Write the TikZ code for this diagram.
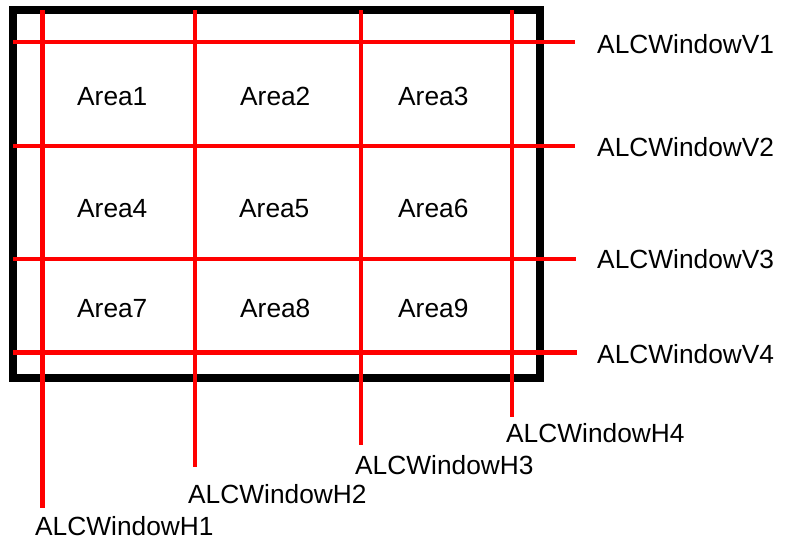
\documentclass[tikz,border=0pt]{standalone}
\usepackage{fontspec}
\setmainfont{Liberation Sans}
\begin{document}
\begin{tikzpicture}[x=1pt,y=-1pt,
  frame/.style={draw=black,line width=8pt},
  win/.style={draw=red,line width=4.5pt},
  lbl/.style={anchor=base west,inner sep=0pt,font=\fontsize{26.3}{30}\selectfont}]
\useasboundingbox (0,0) rectangle (792,539);
% frame
\draw[frame] (13,10) rectangle (540,378);
% window lines
\coordinate (h1t) at (42.5,10); \coordinate (h1b) at (42.5,508);
\coordinate (h2t) at (195,10);  \coordinate (h2b) at (195,467);
\coordinate (h3t) at (361,10);  \coordinate (h3b) at (361,445);
\coordinate (h4t) at (512,10);  \coordinate (h4b) at (512,417);
\coordinate (v1l) at (13,42);   \coordinate (v1r) at (575,42);
\coordinate (v2l) at (13,146);  \coordinate (v2r) at (575,146);
\coordinate (v3l) at (13,259);  \coordinate (v3r) at (576,259);
\coordinate (v4l) at (13,352.5);\coordinate (v4r) at (577,352.5);
\draw[win] (h1t) -- (h1b);
\draw[win] (h2t) -- (h2b);
\draw[win] (h3t) -- (h3b);
\draw[win] (h4t) -- (h4b);
\draw[win] (v1l) -- (v1r);
\draw[win] (v2l) -- (v2r);
\draw[win] (v3l) -- (v3r);
\draw[win] (v4l) -- (v4r);
% areas
\node[lbl] (a1) at (77,105) {Area1};
\node[lbl] (a2) at (240,105) {Area2};
\node[lbl] (a3) at (398,105) {Area3};
\node[lbl] (a4) at (77,217) {Area4};
\node[lbl] (a5) at (239,217) {Area5};
\node[lbl] (a6) at (398,217) {Area6};
\node[lbl] (a7) at (77,317) {Area7};
\node[lbl] (a8) at (240,317) {Area8};
\node[lbl] (a9) at (398,317) {Area9};
% labels
\node[lbl] (lv1) at (597,53) {ALCWindowV1};
\node[lbl] (lv2) at (597,156) {ALCWindowV2};
\node[lbl] (lv3) at (597,268) {ALCWindowV3};
\node[lbl] (lv4) at (597,363) {ALCWindowV4};
\node[lbl] (lh1) at (35,535) {ALCWindowH1};
\node[lbl] (lh2) at (188,503) {ALCWindowH2};
\node[lbl] (lh3) at (355,474) {ALCWindowH3};
\node[lbl] (lh4) at (506,442) {ALCWindowH4};
\end{tikzpicture}
\end{document}
